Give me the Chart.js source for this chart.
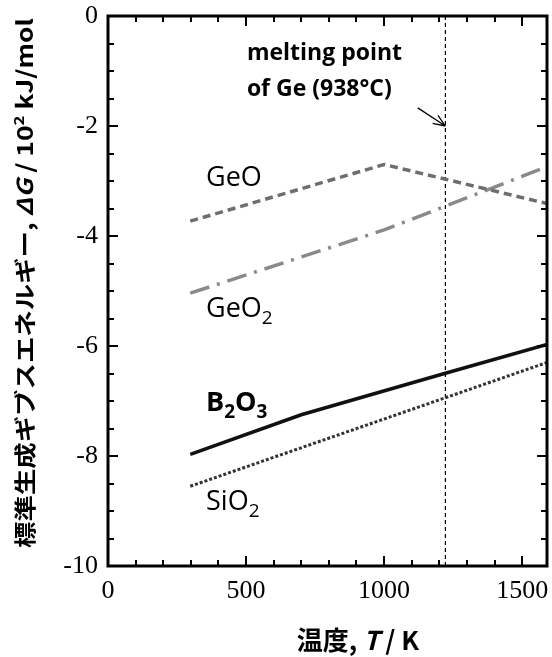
<!DOCTYPE html>
<html><head><meta charset="utf-8">
<script src="https://cdn.jsdelivr.net/npm/chart.js@4/dist/chart.umd.min.js"></script>
<style>html,body{margin:0;padding:0;background:#fff}#wrap{width:552px;height:657px}</style>
</head><body><div id="wrap"><canvas id="c" width="552" height="657"></canvas></div>
<script>
// ---- data ----
const xTickValues = [0, 500, 1000, 1500];
const yTickValues = [0, -2, -4, -6, -8, -10];
const geoT  = [298, 1000, 1590];
const geoG  = [-3.73, -2.70, -3.41];
const geo2T = [298, 1000, 1590];
const geo2G = [-5.04, -3.89, -2.74];
const b2o3T = [298, 700, 1225, 1590];
const b2o3G = [-7.97, -7.25, -6.49, -5.97];
const sio2T = [298, 1590];
const sio2G = [-8.55, -6.30];
const meltT = [1222, 1222];
const meltG = [0, -10];
const arrowT = [1122, 1222];
const arrowG = [-1.67, -2.0];
const xMin = 0, xMax = 1590, yMin = -10, yMax = 0;

const pts = (xs, ys) => xs.map((x, i) => ({x, y: ys[i]}));

const FONT_SANS = '"Open Sans", "Noto Sans", sans-serif';
const FONT_CJK = '"Noto Sans CJK JP", "Noto Sans", sans-serif';

function drawRich(ctx, segs, x, y, align) {
  let total = 0;
  for (const s of segs) { ctx.font = s.f; s.w = ctx.measureText(s.t).width; total += s.w; }
  let cx = align === 'center' ? x - total / 2 : x;
  for (const s of segs) {
    ctx.font = s.f;
    ctx.fillText(s.t, cx, y + (s.dy || 0));
    cx += s.w;
  }
}

const framePlugin = {
  id: 'frame',
  afterDatasetsDraw(chart) {
    const {ctx, chartArea: a, scales: {x, y}} = chart;
    ctx.save();
    ctx.strokeStyle = '#000';
    // inward ticks
    ctx.lineWidth = 2;
    ctx.beginPath();
    for (let v = 0; v <= 1500; v += 100) {
      const px = Math.round(x.getPixelForValue(v));
      const len = v % 500 === 0 ? 10 : 6;
      ctx.moveTo(px, a.bottom); ctx.lineTo(px, a.bottom - len);
      ctx.moveTo(px, a.top); ctx.lineTo(px, a.top + len);
    }
    for (let v = -10; v <= 0; v += 0.5) {
      const py = Math.round(y.getPixelForValue(v));
      const len = Math.abs(v % 2) < 1e-9 ? 10 : 6;
      ctx.moveTo(a.left, py); ctx.lineTo(a.left + len, py);
      ctx.moveTo(a.right, py); ctx.lineTo(a.right - len, py);
    }
    ctx.stroke();
    // frame
    ctx.lineWidth = 3;
    ctx.strokeRect(a.left, a.top, a.right - a.left, a.bottom - a.top);

    // arrow
    const x0 = x.getPixelForValue(arrowT[0]), y0 = y.getPixelForValue(arrowG[0]);
    const x1 = x.getPixelForValue(arrowT[1]), y1 = y.getPixelForValue(arrowG[1]);
    ctx.lineWidth = 1.3;
    ctx.beginPath();
    ctx.moveTo(x0, y0); ctx.lineTo(x1, y1);
    const ang = Math.atan2(y1 - y0, x1 - x0);
    const hl = 13, hw = 0.38;
    ctx.moveTo(x1, y1); ctx.lineTo(x1 - hl * Math.cos(ang - hw), y1 - hl * Math.sin(ang - hw));
    ctx.moveTo(x1, y1); ctx.lineTo(x1 - hl * Math.cos(ang + hw), y1 - hl * Math.sin(ang + hw));
    ctx.stroke();

    // annotations
    ctx.fillStyle = '#000';
    ctx.textBaseline = 'alphabetic';
    ctx.textAlign = 'left';
    const tx = (v) => x.getPixelForValue(v), ty = (v) => y.getPixelForValue(v);
    const bold = 'bold 23px ' + FONT_SANS;
    drawRich(ctx, [{t: 'melting point', f: bold}], tx(503), ty(-0.80), 'left');
    drawRich(ctx, [{t: 'of Ge (938°C)', f: bold}], tx(503), ty(-1.45), 'left');
    const nf = '27px ' + FONT_SANS, sf = '19px ' + FONT_SANS;
    const bf = 'bold 27px ' + FONT_SANS, bsf = 'bold 19px ' + FONT_SANS;
    drawRich(ctx, [{t: 'GeO', f: nf}], tx(355), ty(-3.09), 'left');
    drawRich(ctx, [{t: 'GeO', f: nf}, {t: '2', f: sf, dy: 7}], tx(355), ty(-5.47), 'left');
    drawRich(ctx, [{t: 'B', f: bf}, {t: '2', f: bsf, dy: 7}, {t: 'O', f: bf}, {t: '3', f: bsf, dy: 7}], tx(355), ty(-7.18), 'left');
    drawRich(ctx, [{t: 'SiO', f: nf}, {t: '2', f: sf, dy: 7}], tx(355), ty(-8.98), 'left');

    // axis titles
    const tb = 'bold 26px ' + FONT_CJK, ti = 'italic bold 26px ' + FONT_CJK;
    drawRich(ctx, [{t: '温度, ', f: tb}, {t: 'T', f: ti}, {t: ' / K', f: tb}], 358, 650, 'center');
    ctx.save();
    ctx.translate(25, 283);
    ctx.rotate(-Math.PI / 2);
    ctx.scale(1.2, 1);
    ctx.textBaseline = 'middle';
    const yb = 'bold 22px ' + FONT_CJK, yi = 'italic bold 22px ' + FONT_CJK, ys = 'bold 14px ' + FONT_CJK;
    drawRich(ctx, [{t: '標準生成ギブスエネルギー, ', f: yb}, {t: 'ΔG', f: yi}, {t: ' / 10', f: yb}, {t: '2', f: ys, dy: -6}, {t: ' kJ/mol', f: yb}], 0, 0, 'center');
    ctx.restore();
    ctx.restore();
  }
};

new Chart(document.getElementById('c'), {
  type: 'line',
  data: {
    datasets: [
      {label: 'GeO', data: pts(geoT, geoG), borderColor: '#6e6e6e', borderWidth: 3.5, borderDash: [8, 5], pointRadius: 0, fill: false, tension: 0},
      {label: 'GeO2', data: pts(geo2T, geo2G), borderColor: '#8a8a8a', borderWidth: 3.5, borderDash: [20, 8, 3, 8], pointRadius: 0, fill: false, tension: 0},
      {label: 'B2O3', data: pts(b2o3T, b2o3G), borderColor: '#111', borderWidth: 3.5, pointRadius: 0, fill: false, tension: 0},
      {label: 'SiO2', data: pts(sio2T, sio2G), borderColor: '#333', borderWidth: 3, borderDash: [3, 2], pointRadius: 0, fill: false, tension: 0},
      {label: 'melting point', data: pts(meltT, meltG), borderColor: '#000', borderWidth: 1.2, borderDash: [4, 3], pointRadius: 0, fill: false}
    ]
  },
  options: {
    responsive: false,
    animation: false,
    devicePixelRatio: 1,
    layout: {padding: {top: 16, right: 5, left: 0, bottom: 0}},
    plugins: {legend: {display: false}, tooltip: {enabled: false}},
    scales: {
      x: {
        type: 'linear', min: xMin, max: xMax,
        afterBuildTicks: (s) => { s.ticks = xTickValues.map(v => ({value: v})); },
        afterFit: (s) => { s.height = 91; s.paddingLeft = 0; s.paddingRight = 0; },
        grid: {display: false, drawTicks: false},
        border: {display: false},
        ticks: {color: '#000', padding: 10, maxRotation: 0, callback: (v) => String(v), font: {family: '"Liberation Serif", serif', size: 26}}
      },
      y: {
        type: 'linear', min: yMin, max: yMax,
        afterBuildTicks: (s) => { s.ticks = yTickValues.map(v => ({value: v})); },
        afterFit: (s) => { s.width = 108; s.paddingTop = 0; s.paddingBottom = 0; },
        grid: {display: false, drawTicks: false},
        border: {display: false},
        ticks: {color: '#000', padding: 10, callback: (v) => String(v), font: {family: '"Liberation Serif", serif', size: 26}}
      }
    }
  },
  plugins: [framePlugin]
});
</script></body></html>
